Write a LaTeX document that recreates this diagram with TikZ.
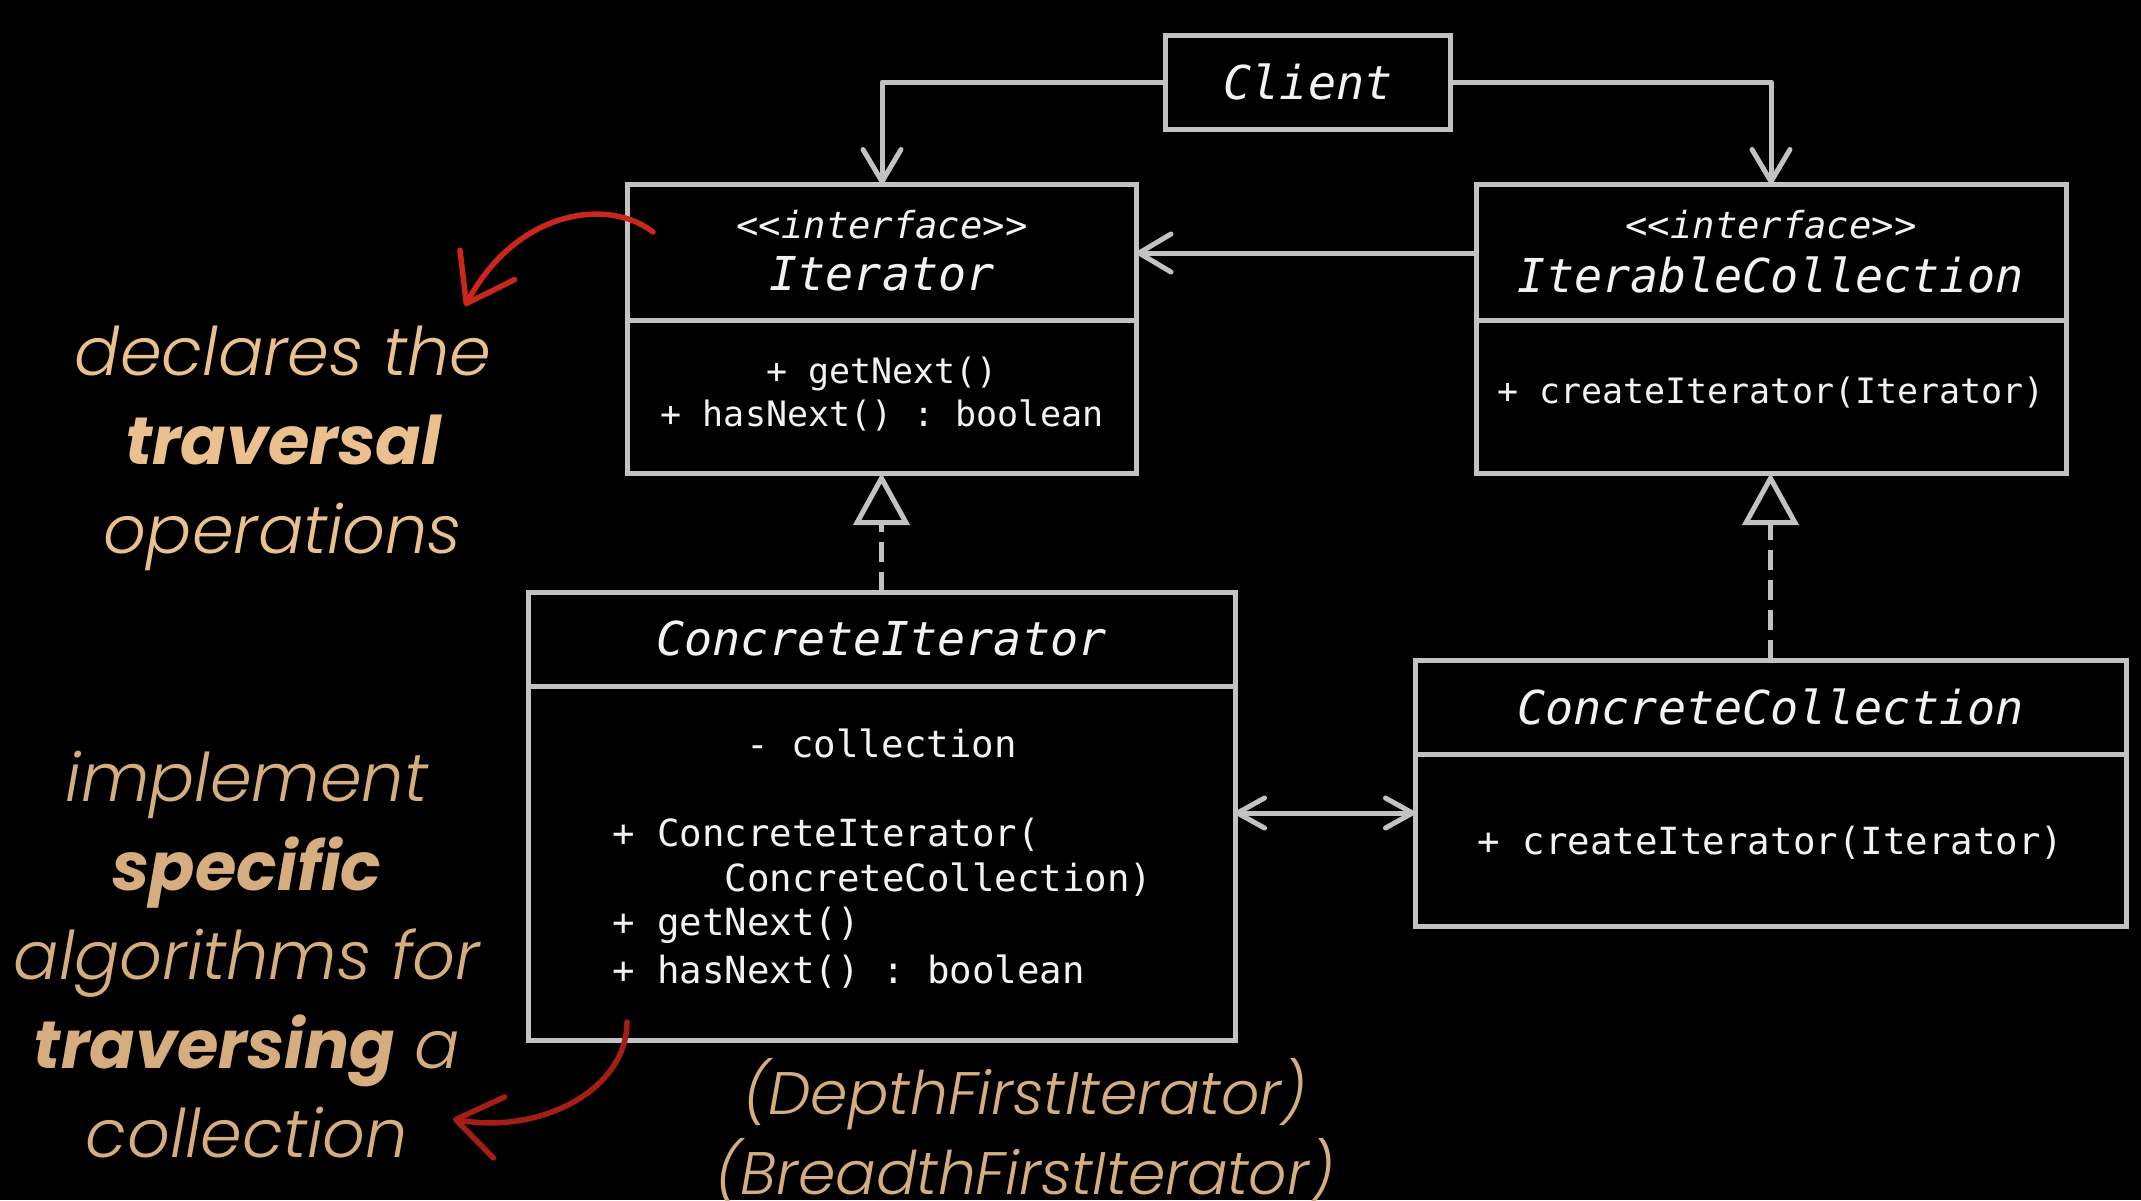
\documentclass[tikz,border=0pt]{standalone}
\usepackage{fontspec}
\setmonofont{DejaVu Sans Mono}
\IfFontExistsTF{Poppins Light Italic}{\newfontfamily\annlight{Poppins Light Italic}}{\newfontfamily\annlight{Poppins Italic}}
\newfontfamily\annfam{Poppins}
\newcommand\annbold{\annfam\itshape\bfseries}
\usetikzlibrary{arrows.meta}
\definecolor{linegray}{HTML}{C2C2C2}
\definecolor{txtwhite}{HTML}{F2F2F2}
\definecolor{peach}{HTML}{EBC08F}
\definecolor{peachdim}{HTML}{D6AD7F}
\definecolor{redA}{HTML}{C9261C}
\definecolor{redB}{HTML}{A51E16}
\newcommand\umlmeth{\ttfamily\fontsize{35}{43}\selectfont}
\newcommand\umlmethbig{\ttfamily\fontsize{37.4}{45.5}\selectfont}
\newcommand\umltitle{\ttfamily\itshape\fontsize{46.7}{56}\selectfont}
\newcommand\umlstereo{\ttfamily\itshape\fontsize{37.2}{44}\selectfont}
\begin{document}
\begin{tikzpicture}[x=1pt,y=-1pt,
  umlbox/.style={draw=linegray,line width=5pt,fill=black,inner sep=0pt,outer sep=0pt,text=txtwhite},
  sepline/.style={draw=linegray,line width=5pt},
  conn/.style={draw=linegray,line width=5pt,line cap=round,line join=round},
  vhead/.style={-{Straight Barb[length=32pt,width=38pt,round]}},
  dhead/.style={{Straight Barb[length=27pt,width=30pt,round]}-{Straight Barb[length=27pt,width=30pt,round]}},
  realize/.style={draw=linegray,line width=5pt,dash pattern=on 20pt off 10pt,-{Triangle[length=52pt,width=56pt,fill=black]}},
  txt/.style={text=txtwhite,inner sep=0pt,outer sep=0pt},
  note/.style={inner sep=0pt,align=center,font=\annlight\fontsize{67}{89}\selectfont},
  redarrow/.style={line width=5.5pt,line cap=round,-{Straight Barb[length=44pt,width=62pt,round]}}
]
\fill[black] (0,0) rectangle (2141,1200);
\useasboundingbox (0,0) rectangle (2141,1200);

% boxes
\node[umlbox,minimum width=285pt,minimum height=94pt,font=\umltitle] (client) at (1308,82) {Client};
\node[umlbox,minimum width=509pt,minimum height=289pt] (iter) at (882,328.5) {};
\node[umlbox,minimum width=590pt,minimum height=289pt] (icoll) at (1771,328.5) {};
\node[umlbox,minimum width=707pt,minimum height=448pt] (citer) at (881.5,816) {};
\node[umlbox,minimum width=711pt,minimum height=266pt] (ccoll) at (1770.5,793) {};

% separators
\draw[sepline] (iter.west |- 0,320) -- (iter.east |- 0,320);
\draw[sepline] (icoll.west |- 0,320) -- (icoll.east |- 0,320);
\draw[sepline] (citer.west |- 0,686) -- (citer.east |- 0,686);
\draw[sepline] (ccoll.west |- 0,754) -- (ccoll.east |- 0,754);

% Iterator texts
\node[txt,font=\umlstereo] (iterS) at (882,225) {<<interface>>};
\node[txt,font=\umltitle] (iterT) at (882,274) {Iterator};
\node[txt,font=\umlmeth,align=center] (iterM) at (882,394.5) {+ getNext()\\+ hasNext() : boolean};

% IterableCollection texts
\node[txt,font=\umlstereo] (icollS) at (1771,225) {<<interface>>};
\node[txt,font=\umltitle] (icollT) at (1771,275) {IterableCollection};
\node[txt,font=\umlmeth] (icollM) at (1771,393) {+ createIterator(Iterator)};

% ConcreteIterator texts
\node[txt,font=\umltitle] (citerT) at (881.5,638) {ConcreteIterator};
\node[txt,font=\umlmethbig] (citerA) at (881.5,743) {- collection};
\node[txt,font=\umlmethbig,anchor=west] (citerM1) at (612,835) {+ ConcreteIterator(};
\node[txt,font=\umlmethbig,anchor=west] (citerM2) at (724.5,880) {ConcreteCollection)};
\node[txt,font=\umlmethbig,anchor=west] (citerM3) at (612,925) {+ getNext()};
\node[txt,font=\umlmethbig,anchor=west] (citerM4) at (612,972) {+ hasNext() : boolean};

% ConcreteCollection texts
\node[txt,font=\umltitle] (ccollT) at (1770.5,707) {ConcreteCollection};
\node[txt,font=\umlmethbig] (ccollM) at (1770.5,843) {+ createIterator(Iterator)};

% connectors
\draw[conn,vhead] (client.west) -| (iter.north);
\draw[conn,vhead] (client.east) -| (icoll.north);
\draw[conn,vhead] (icoll.west |- 0,253) -- (iter.east |- 0,253);
\draw[conn,dhead] (citer.east |- 0,813) -- (ccoll.west |- 0,813);
\draw[realize] (citer.north) -- (citer.north |- iter.south);
\draw[realize] (ccoll.north) -- (ccoll.north |- icoll.south);

% annotations
\node[note,text=peach] (noteA) at (283,448) {declares the\\{\annbold traversal}\\operations};
\node[note,text=peachdim] (noteB) at (247,955) {implement\\{\annbold specific}\\algorithms for\\{\annbold traversing} a\\collection};
\node[note,text=peachdim,font=\annlight\fontsize{60}{80}\selectfont] (noteC) at (1025,1132) {(DepthFirstIterator)\\(BreadthFirstIterator)};

% red arrows
\coordinate (rA0) at (653,232);
\coordinate (rA1) at (465,306);
\draw[redarrow,redA] (rA0) .. controls (610,198) and (518,208) .. (rA1);
\coordinate (rB0) at (627,1022);
\coordinate (rB1) at (453,1119);
\draw[redarrow,redB] (rB0) .. controls (627,1090) and (540,1135) .. (rB1);
\end{tikzpicture}
\end{document}
